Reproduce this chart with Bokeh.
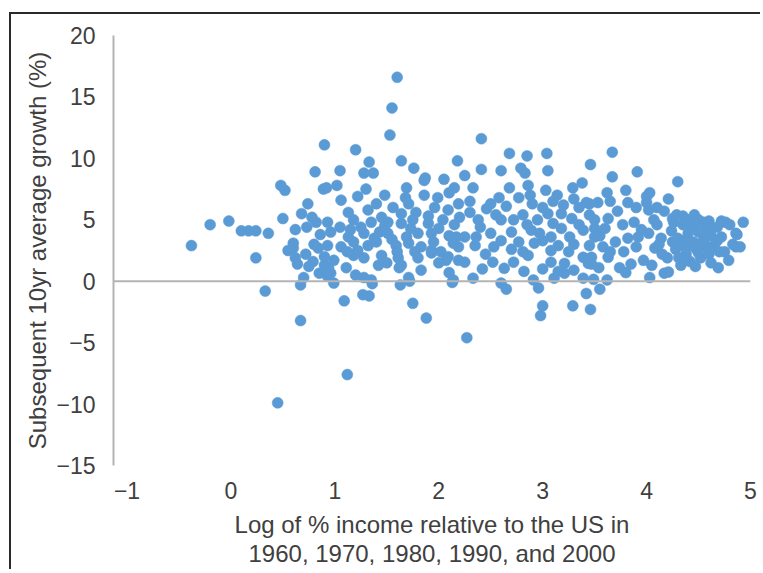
from bokeh.plotting import figure
from bokeh.models import Range1d, FixedTicker, Span, CustomJSTickFormatter
from bokeh.embed import file_html
from bokeh.resources import INLINE

# Log of % income relative to the US (x) and subsequent 10yr average growth % (y)
x_left = [-0.38, -0.2, -0.02, 0.1, 0.17, 0.24, 0.36, 0.24, 0.33, 0.48, 0.52, 0.5, 0.62, 0.73,
          0.68, 0.74, 0.81, 0.89, 0.9, 0.55, 0.62, 0.6, 0.75, 0.85, 0.7, 0.67, 0.67, 0.45, 0.8,
          0.86, 0.82, 0.78, 0.72, 0.79, 0.84, 0.9, 0.93, 0.6, 0.64]
y_left = [2.9, 4.6, 4.9, 4.1, 4.1, 4.1, 3.9, 1.9, -0.8, 7.8, 7.4, 5.1, 4.2, 4.4,
          5.5, 6.3, 8.9, 7.5, 11.1, 2.5, 1.9, 2.7, 1.2, 0.65, 0.3, -0.3, -3.2, -9.9, 3.0,
          3.8, 4.8, 5.2, 2.2, 1.6, 2.7, 1.3, 0.4, 3.1, 1.4]

x_mid1 = [1.6, 1.55, 1.53, 1.2, 1.64, 1.76, 1.33, 1.28, 1.37, 1.05, 1.87, 2.05, 2.18,
          0.92, 1.02, 1.69, 1.86, 2.15, 1.06, 1.4, 1.56, 1.71, 1.86, 1.99, 2.1, 1.13, 1.32,
          1.45, 1.64, 1.78, 1.96, 2.09, 2.19, 0.93, 1.18, 1.35, 1.51, 1.64, 1.75, 1.9, 2.04,
          2.15, 0.96, 1.13, 1.28, 1.43, 1.51, 1.69, 1.8, 1.93, 2.1, 0.93, 1.06, 1.18, 1.32,
          1.4, 1.59, 1.71, 1.83, 1.93, 2.02, 2.19, 0.9, 0.99, 1.18, 1.28, 1.45, 1.61, 1.64,
          1.8, 1.93, 2.09, 0.94, 1.11, 1.2, 1.28, 1.35, 1.62, 1.71, 1.83, 2.07, 2.1, 1.63,
          2.14, 0.96, 0.99, 1.09, 1.27, 1.33, 1.36, 1.72, 1.75, 1.88, 2.27, 2.13, 1.12,
          1.48, 1.55, 1.25, 1.9, 2.0, 1.73, 1.38, 1.6, 1.95, 1.05, 1.15, 1.22, 1.5, 1.77,
          2.0, 1.42, 1.12, 1.68, 1.48, 1.22, 1.3]
y_mid1 = [16.6, 14.1, 11.9, 10.7, 9.8, 9.2, 9.7, 8.8, 8.8, 9.0, 8.4, 8.3, 9.8,
          7.6, 7.8, 7.6, 8.2, 7.6, 6.6, 6.3, 6.0, 6.3, 7.0, 6.8, 7.2, 5.6, 5.8,
          5.2, 5.5, 5.6, 6.0, 5.8, 6.3, 4.8, 5.0, 4.8, 4.8, 4.7, 5.0, 4.7, 5.0,
          4.6, 4.0, 3.6, 3.9, 4.0, 3.9, 3.6, 3.9, 3.9, 3.7, 2.9, 2.8, 3.2, 2.9,
          3.2, 2.9, 3.1, 2.8, 2.5, 2.4, 2.8, 2.0, 1.7, 2.1, 1.9, 2.1, 1.9, 1.3,
          1.9, 2.3, 2.0, 1.1, 1.1, 0.5, 0.3, 0.1, 1.1, 0.3, 0.9, 1.7, 0.7, -0.3,
          0.1, 0.65, -0.15, -1.6, -1.1, -1.2, -0.2, 0.0, -1.8, -3.0, -4.6, -0.1, -7.6,
          4.5, 3.4, 4.4, 5.3, 4.3, 4.3, 3.5, 2.4, 3.2, 4.4, 4.2, 2.5, 1.5, 2.4,
          1.5, 1.3, 2.4, 6.8, 7.0, 6.9, 7.5]

x_mid2 = [2.41, 2.68, 2.85, 3.04, 2.25, 2.41, 2.6, 2.79, 2.83, 3.05, 3.46, 2.33, 2.68,
          2.86, 3.03, 2.88, 3.14, 3.29, 3.38, 2.46, 2.58, 2.77, 2.33, 2.6, 2.65, 2.91, 2.96,
          3.0, 2.98, 3.29, 3.39, 3.11, 3.21, 2.19, 2.25, 2.52, 2.63, 2.72, 2.86, 3.08, 3.21,
          2.17, 2.25, 2.36, 2.38, 2.5, 2.6, 2.7, 2.77, 2.89, 2.97, 3.08, 3.18, 3.26, 3.39,
          3.05, 3.18, 3.35, 3.28, 2.81, 2.6, 2.53, 2.81, 2.92, 3.08, 3.25, 3.39, 2.14,
          2.3, 2.3, 2.5, 2.55, 2.65, 2.72, 2.9, 2.95, 3.0, 3.1, 3.2, 3.3, 3.45, 3.45, 3.35,
          3.1, 2.85, 2.4, 2.2, 2.45, 2.7, 3.0, 3.15, 3.3, 3.45, 3.5, 2.35, 3.0, 3.15, 2.42,
          2.82, 3.3, 3.47]
y_mid2 = [11.6, 10.4, 10.2, 10.4, 8.6, 9.1, 9.0, 9.2, 8.8, 9.0, 9.5, 7.6, 7.6,
          7.8, 7.4, 7.0, 7.0, 7.6, 8.0, 5.9, 6.8, 6.8, 0.25, -0.15, -0.65, 0.1, -0.55,
          -2.0, -2.8, -2.0, 0.25, 0.25, 0.65, 1.7, 1.55, 1.55, 1.05, 1.55, 2.1, 1.55, 1.45,
          3.6, 3.6, 3.6, 5.0, 3.9, 3.3, 4.0, 3.2, 4.15, 3.9, 3.6, 4.3, 3.6, 4.15,
          5.5, 5.5, 6.0, 5.1, 5.4, 5.0, 2.8, 2.4, 3.1, 2.5, 2.4, 1.95, 3.1,
          5.6, 6.5, 6.3, 5.4, 6.1, 5.0, 6.3, 5.0, 6.0, 6.5, 6.2, 6.7, 6.3, 5.4, 4.6,
          4.7, 4.6, 4.4, 5.2, 2.2, 2.6, 3.3, 2.9, 3.0, 2.9, 3.6, 2.9, 1.0, 0.8, 1.0,
          0.8, 0.9, 1.4]

x_right = [3.67, 3.67, 3.91, 4.3, 3.8, 3.82, 3.62, 4.03, 4.0, 4.21, 3.65, 4.02, 4.07,
           4.17, 4.29, 4.46, 4.62, 4.76, 4.93, 4.86, 3.42, 3.53, 3.5, 3.63, 3.77, 3.88,
           4.02, 4.24, 4.4, 4.87, 4.86, 4.75, 4.79, 4.69, 4.2, 4.21, 4.17, 3.97, 4.03,
           4.08, 4.14, 3.78, 3.82, 3.74, 3.63, 3.47, 3.44, 3.54, 3.62, 3.49, 3.55, 3.42,
           3.46, 4.3, 4.35, 4.38, 4.4, 4.42, 4.45, 4.48, 4.5, 4.52, 4.55, 4.57, 4.6, 4.62,
           4.35, 4.33, 4.47, 4.55, 4.4, 4.28, 4.62, 4.65, 4.68, 4.5, 4.43, 4.38, 4.58,
           4.26, 4.31, 4.52, 4.46, 4.36, 4.6, 4.7, 4.72, 4.25, 3.6, 3.7, 3.9, 3.95, 4.1,
           4.15, 3.85, 3.58, 3.72, 3.9, 4.0, 4.1, 3.55, 3.65, 3.92, 4.05, 4.12, 3.8, 3.5,
           4.25, 4.35, 4.5, 4.6, 4.68, 4.72, 4.8, 4.83, 4.9]
y_right = [10.5, 8.5, 8.9, 8.1, 7.4, 6.4, 7.2, 7.2, 6.9, 6.7, 6.5, 5.8, 5.0,
           5.7, 5.4, 5.4, 4.4, 4.8, 4.8, 3.9, 6.4, 6.4, 5.0, 5.1, 4.6, 4.8,
           3.9, 4.1, 4.4, 3.8, 2.8, 2.4, 1.7, 1.1, 1.9, 0.75, 0.65, 1.7, 0.3,
           2.7, 3.5, 2.4, 3.5, 1.1, 1.95, 1.95, 1.45, 1.1, 0.1, 0.15, -0.65, -1.0,
           -2.3, 3.5, 2.9, 2.2, 3.9, 1.6, 3.2, 2.6, 4.0, 1.9, 3.4, 2.9, 2.2, 3.7,
           4.6, 1.3, 1.2, 4.8, 5.0, 2.6, 1.5, 2.9, 3.3, 2.3, 2.9, 3.4, 4.2,
           4.8, 1.9, 3.0, 4.5, 1.7, 2.6, 2.4, 3.6, 3.2, 4.3, 3.2, 2.8, 4.2, 4.6,
           2.2, 1.4, 2.8, 5.7, 6.0, 6.4, 6.0, 3.7, 2.4, 3.6, 1.3, 3.0, 0.7, 4.3,
           5.1, 5.3, 5.0, 4.9, 4.4, 4.9, 4.6, 3.0, 2.8]

xs = x_left + x_mid1 + x_mid2 + x_right
ys = y_left + y_mid1 + y_mid2 + y_right

x_ticks = [-1, 0, 1, 2, 3, 4, 5]
y_ticks = [-15, -10, -5, 0, 5, 10, 15, 20]

FONT = "Liberation Sans"
TXT = "#404040"
GRAY = "#b4b4b4"

p = figure(frame_width=637, frame_height=430, output_backend="svg", toolbar_location=None,
           x_range=Range1d(-1.13, 5.0), y_range=Range1d(-15, 20),
           min_border_left=102, min_border_right=10, min_border_top=21, min_border_bottom=96)
p.styles = {"margin-left": "9px", "margin-top": "12px",
            "border-left": "2px solid #2a2a2a", "border-top": "2px solid #2a2a2a"}
p.outline_line_color = None
p.grid.grid_line_color = None

p.scatter(xs, ys, size=11, fill_color="#5B9BD5", line_color="#5B9BD5", line_width=0.5)

zero = Span(location=0, dimension="width", line_color=GRAY, line_width=2)
p.add_layout(zero)

fmt = CustomJSTickFormatter(code="return tick < 0 ? '\u2212' + Math.abs(tick) : String(tick);")

ax = p.xaxis[0]
ax.ticker = FixedTicker(ticks=x_ticks)
ax.formatter = fmt
ax.axis_line_color = None
ax.major_tick_line_color = None
ax.minor_tick_line_color = None
ax.major_label_text_font = FONT
ax.major_label_text_font_size = "23px"
ax.major_label_text_color = TXT
ax.major_label_standoff = 10
ax.axis_label = "Log of % income relative to the US in\n1960, 1970, 1980, 1990, and 2000"
ax.axis_label_text_font = FONT
ax.axis_label_text_font_size = "24px"
ax.axis_label_text_font_style = "normal"
ax.axis_label_text_color = TXT
ax.axis_label_text_line_height = 1.08
ax.axis_label_standoff = 9

ay = p.yaxis[0]
ay.ticker = FixedTicker(ticks=y_ticks)
ay.formatter = fmt
ay.axis_line_color = GRAY
ay.axis_line_width = 2
ay.major_tick_line_color = None
ay.minor_tick_line_color = None
ay.major_label_text_font = FONT
ay.major_label_text_font_size = "23px"
ay.major_label_text_color = TXT
ay.major_label_standoff = 12
ay.axis_label = "Subsequent 10yr average growth (%)"
ay.axis_label_text_font = FONT
ay.axis_label_text_font_size = "24px"
ay.axis_label_text_font_style = "normal"
ay.axis_label_text_color = TXT
ay.axis_label_standoff = 2

open("out.html", "w").write(file_html(p, INLINE))
